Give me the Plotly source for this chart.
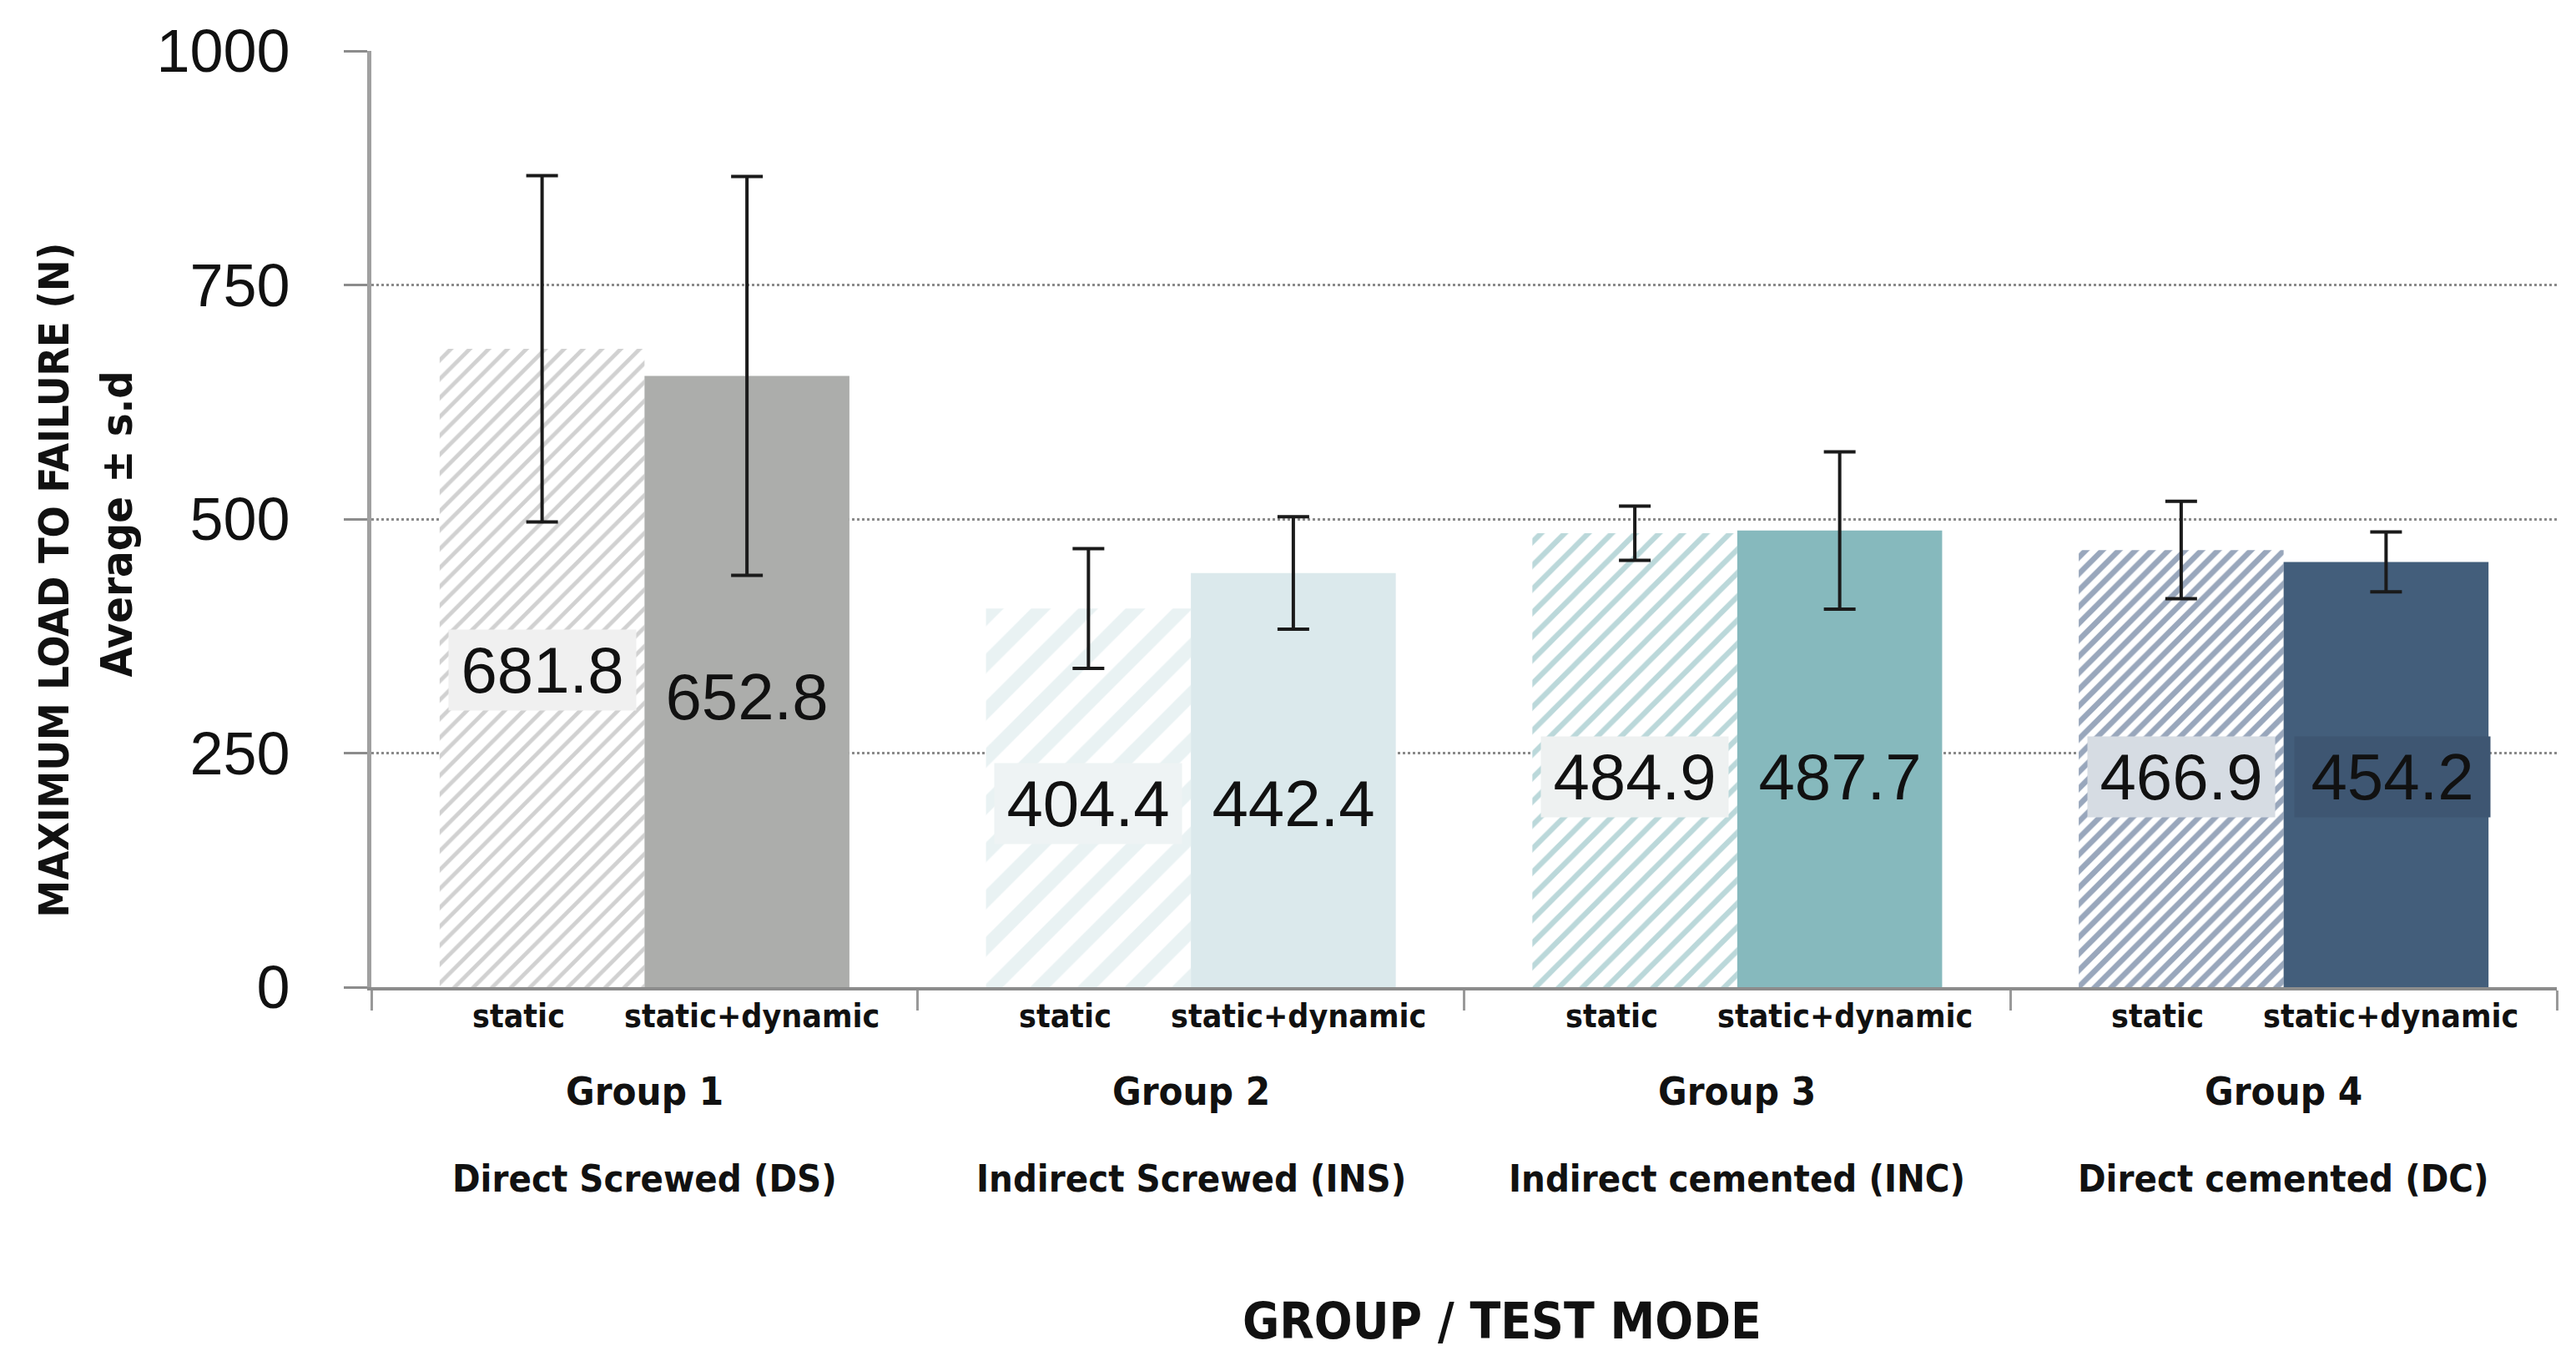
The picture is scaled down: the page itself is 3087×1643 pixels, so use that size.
import plotly.graph_objects as go

# ---------------- data ----------------
groups = ["Group 1", "Group 2", "Group 3", "Group 4"]
group_names = ["Direct Screwed (DS)", "Indirect Screwed (INS)",
               "Indirect cemented (INC)", "Direct cemented (DC)"]
modes = ["static", "static+dynamic"]

static_mean = [681.8, 404.4, 484.9, 466.9]
static_sd = [185, 64, 29, 52]
dynamic_mean = [652.8, 442.4, 487.7, 454.2]
dynamic_sd = [213, 60, 84, 32]

# vertical value at which each data label sits
static_label_y = [339, 196, 225, 225]
dynamic_label_y = [310, 196, 225, 225]

y_ticks = [0, 250, 500, 750, 1000]

# ---------------- styles ----------------
bar_colors = ["#acadab", "#dbe9ec", "#86b9bd", "#435e7b"]
hatch_colors = ["#a3a3a3", "#d3e5e7", "#78b1b5", "#34507a"]
hatch_sizes = [16, 40, 20, 14]
hatch_solidity = [0.3, 0.42, 0.32, 0.48]
static_box = ["#f0f0f0", "#eef3f4", "#eef1f1", "#d6dce3"]
dynamic_box = ["rgba(0,0,0,0)", "rgba(0,0,0,0)", "rgba(0,0,0,0)", "#3e5672"]

NARROW = "DejaVu Sans Condensed, DejaVu Sans, sans-serif"
REG = "Liberation Sans, Arial, sans-serif"


def nfont(size):
    return dict(family=NARROW, size=size, color="#111", weight="bold")


bargap = 0.25
offset = (1 - bargap) / 4

fig = go.Figure()
err = dict(type="data", color="#1a1a1a", thickness=4, width=19)

fig.add_trace(go.Bar(
    x=groups, y=static_mean, name=modes[0],
    error_y=dict(array=static_sd, **err),
    marker=dict(color="white", line=dict(width=0),
                pattern=dict(shape="/", fgcolor=hatch_colors, bgcolor="white",
                             size=hatch_sizes, solidity=hatch_solidity)),
))
fig.add_trace(go.Bar(
    x=groups, y=dynamic_mean, name=modes[1],
    error_y=dict(array=dynamic_sd, **err),
    marker=dict(color=bar_colors, line=dict(width=0)),
))

ann = []
for i, g in enumerate(groups):
    # data labels
    ann.append(dict(x=i - offset, y=static_label_y[i], xref="x", yref="y",
                    text=f"{static_mean[i]:.1f}", showarrow=False,
                    font=dict(family=REG, size=78, color="#111"),
                    bgcolor=static_box[i], width=222, height=94))
    ann.append(dict(x=i + offset, y=dynamic_label_y[i], xref="x", yref="y",
                    text=f"{dynamic_mean[i]:.1f}", showarrow=False,
                    xshift=8 if i == 3 else 0,
                    font=dict(family=REG, size=78, color="#111"),
                    bgcolor=dynamic_box[i], width=232, height=94))
    # category labels
    ann.append(dict(x=i - offset, y=0, xref="x", yref="paper", yanchor="middle",
                    yshift=-34, xshift=-28, text=modes[0], showarrow=False,
                    font=nfont(39)))
    ann.append(dict(x=i + offset, y=0, xref="x", yref="paper", yanchor="middle",
                    yshift=-34, xshift=6, text=modes[1], showarrow=False,
                    font=nfont(39)))
    ann.append(dict(x=i, y=0, xref="x", yref="paper", yanchor="middle",
                    yshift=-124, text=g, showarrow=False, font=nfont(47)))
    ann.append(dict(x=i, y=0, xref="x", yref="paper", yanchor="middle",
                    yshift=-229, text=group_names[i], showarrow=False,
                    font=nfont(45)))

# axis titles
ann.append(dict(x=0.5175, y=0, xref="paper", yref="paper", yanchor="middle",
                xanchor="center", yshift=-400, text="GROUP / TEST MODE",
                showarrow=False, font=nfont(60)))
ann.append(dict(x=-0.1453, y=0.435, xref="paper", yref="paper",
                xanchor="center", yanchor="middle",
                text="MAXIMUM LOAD TO FAILURE (N)", showarrow=False,
                textangle=-90, font=nfont(50)))
ann.append(dict(x=-0.1166, y=0.4947, xref="paper", yref="paper",
                xanchor="center", yanchor="middle",
                text="Average ± s.d", showarrow=False, textangle=-90,
                font=nfont(52)))

fig.update_layout(
    width=3087, height=1643,
    margin=dict(l=437, r=31, t=53, b=468),
    paper_bgcolor="white", plot_bgcolor="white",
    barmode="group", bargap=bargap, bargroupgap=0.0,
    showlegend=False,
    annotations=ann,
    xaxis=dict(type="category", range=[-0.5, 3.5], showticklabels=False,
               tickson="boundaries", ticks="outside", ticklen=24, tickwidth=3,
               tickcolor="#999999", showline=True, linecolor="#8c8c8c",
               linewidth=4, showgrid=False, zeroline=False),
    yaxis=dict(range=[0, 1000], tickvals=y_ticks, ticks="outside", ticklen=28,
               tickwidth=3, tickcolor="#8c8c8c", showline=True, linecolor="#a0a0a0",
               linewidth=5, showgrid=True, gridcolor="#8a8a8a", gridwidth=3,
               griddash="dot", zeroline=False, ticklabelstandoff=50,
               tickfont=dict(family=REG, size=72, color="#111")),
)

fig.write_html("out.html")
